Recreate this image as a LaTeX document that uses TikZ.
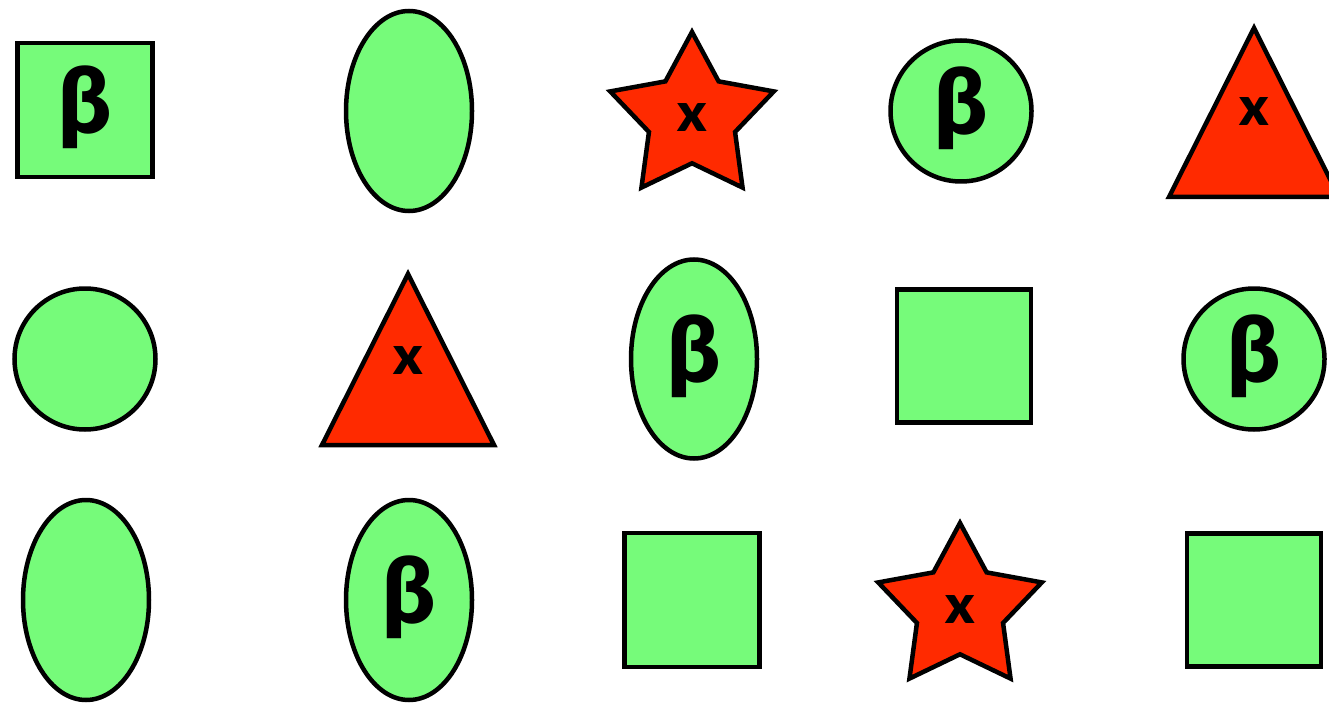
\documentclass[tikz,border=0pt]{standalone}
\usepackage{fontspec}
\setmainfont{Lato}[BoldFont={Lato Black}]
\usetikzlibrary{shapes.geometric}
\definecolor{shapegreen}{RGB}{118,251,122}
\definecolor{shapered}{RGB}{255,42,0}
\newcommand{\betalab}{\raisebox{3pt}[\height][\depth]{\fontsize{92}{92}\selectfont β}}

\begin{document}
\begin{tikzpicture}[x=1pt, y=-1pt, line width=4.5pt,
  greenshape/.style={draw, fill=shapegreen, inner sep=0pt},
  redshape/.style={draw, fill=shapered, line join=miter},
  lab/.style={font=\fontsize{54}{54}\selectfont\bfseries}]

\useasboundingbox (0,0) rectangle (1329,703);

% first row
\node[greenshape, rectangle, minimum width=135pt, minimum height=134pt, lab] (sqA) at (85,110) {\betalab};
\node[greenshape, ellipse, minimum width=126pt, minimum height=200pt] (elA) at (409,111) {};
\node[redshape, star, star points=5, star point ratio=1.9, minimum size=172pt, inner sep=0pt, lab] (stA) at (692,118) {x};
\node[greenshape, circle, minimum size=141pt, lab] (ciA) at (961,111) {\betalab};
\draw[redshape] (1254,28) -- (1169,197) -- (1339,197) -- cycle;
\node[lab, inner sep=0pt] (trA) at (1254,112) {x};

% second row
\node[greenshape, circle, minimum size=141pt] (ciB) at (85,359) {};
\draw[redshape] (408,274) -- (322,445) -- (494,445) -- cycle;
\node[lab, inner sep=0pt] (trB) at (408,360) {x};
\node[greenshape, ellipse, minimum width=126pt, minimum height=199pt, lab] (elB) at (694,359) {\betalab};
\node[greenshape, rectangle, minimum width=134pt, minimum height=133pt] (sqB) at (964,356) {};
\node[greenshape, circle, minimum size=141pt, lab] (ciC) at (1254,359) {\betalab};

% third row
\node[greenshape, ellipse, minimum width=126pt, minimum height=200pt] (elC) at (86,600) {};
\node[greenshape, ellipse, minimum width=126pt, minimum height=200pt, lab] (elD) at (409,600) {\betalab};
\node[greenshape, rectangle, minimum width=135pt, minimum height=134pt] (sqC) at (692,600) {};
\node[redshape, star, star points=5, star point ratio=1.9, minimum size=172pt, inner sep=0pt, lab] (stB) at (960,609) {x};
\node[greenshape, rectangle, minimum width=134pt, minimum height=133pt] (sqD) at (1254,600) {};

\end{tikzpicture}
\end{document}
